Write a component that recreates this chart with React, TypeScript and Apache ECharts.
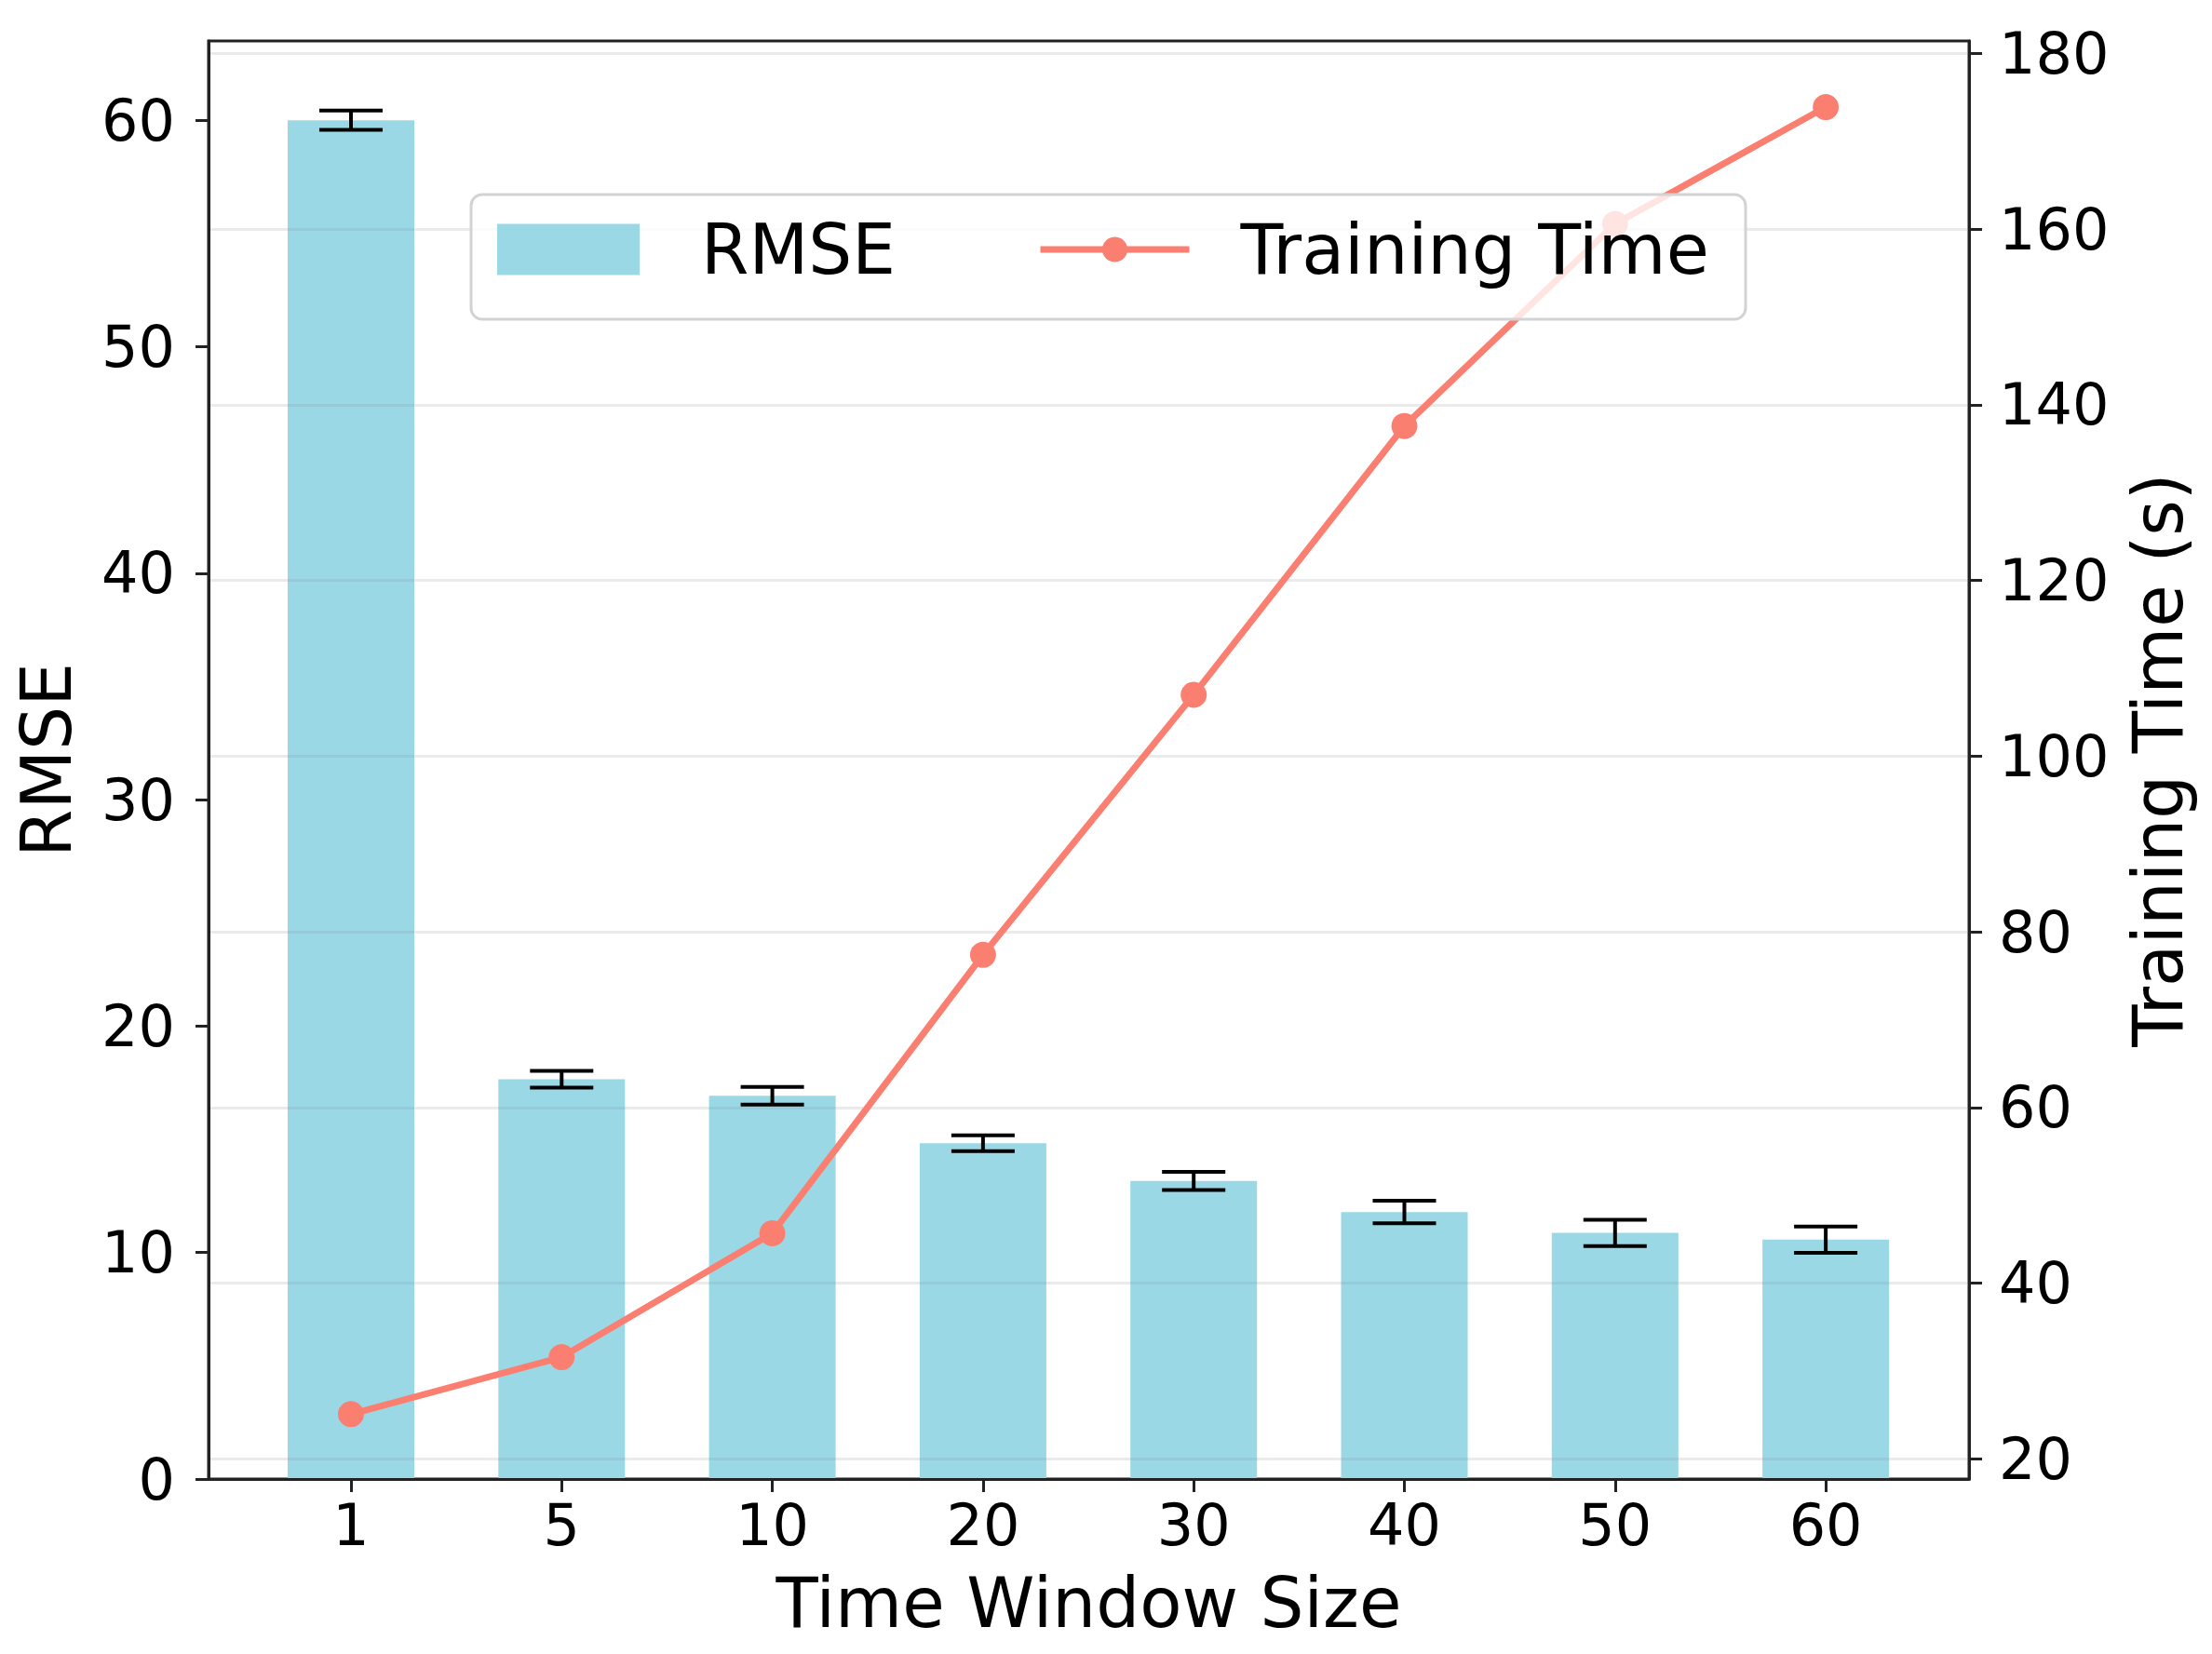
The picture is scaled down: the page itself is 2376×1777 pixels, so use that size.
import React, { useEffect, useRef } from "react";
import * as echarts from "echarts";

const categories = ["1", "5", "10", "20", "30", "40", "50", "60"];
const rmseValues = [60.0, 17.65, 16.92, 14.83, 13.16, 11.79, 10.87, 10.57];
const rmseErrors = [0.43, 0.37, 0.39, 0.35, 0.4, 0.5, 0.58, 0.58];
const trainingTime = [25.1, 31.6, 45.7, 77.4, 107.0, 137.6, 160.6, 173.9];
const rmseTicks = [0, 10, 20, 30, 40, 50, 60];
const timeTicks = [20, 40, 60, 80, 100, 120, 140, 160, 180];
const xTicks = categories.map((_, i) => i);

const FONT = "DejaVu Sans";
const BAR_COLOR = "#9AD8E6";
const LINE_COLOR = "#FA7F70";
const AXIS_COLOR = "#222";

export default function App() {
  const ref = useRef<HTMLDivElement>(null);

  useEffect(() => {
    if (!ref.current) return;
    const chart = echarts.init(ref.current, null, { renderer: "svg" });

    const axisLine = { show: true, onZero: false, lineStyle: { color: AXIS_COLOR, width: 3 } };
    const tickBase = { show: true, length: 14, inside: false, lineStyle: { color: AXIS_COLOR, width: 3 } };
    const labelBase = { color: "#000", fontFamily: FONT, fontSize: 62 };
    const nameStyle = { color: "#000", fontFamily: FONT, fontSize: 74 };

    const option: any = {
      animation: false,
      backgroundColor: "#fff",
      grid: {
        left: 224,
        right: 2376 - 2115,
        top: 44,
        bottom: 1777 - 1589,
        show: true,
        borderColor: AXIS_COLOR,
        borderWidth: 3,
        backgroundColor: "transparent",
        containLabel: false,
      },
      xAxis: {
        type: "value",
        min: -0.676,
        max: 7.68,
        z: 4,
        axisLine,
        axisTick: { ...tickBase, customValues: xTicks },
        axisLabel: {
          ...labelBase,
          customValues: xTicks,
          margin: 18,
          formatter: (v: number) => categories[Math.round(v)] ?? "",
        },
        splitLine: { show: false },
        name: "Time Window Size",
        nameLocation: "middle",
        nameGap: 96,
        nameTextStyle: nameStyle,
      },
      yAxis: [
        {
          type: "value",
          position: "left",
          min: 0,
          max: 63.5,
          z: 4,
          axisLine,
          axisTick: { ...tickBase, customValues: rmseTicks },
          axisLabel: { ...labelBase, customValues: rmseTicks, margin: 36 },
          splitLine: { show: false },
          name: "RMSE",
          nameLocation: "middle",
          nameRotate: 90,
          nameGap: 137,
          nameTextStyle: nameStyle,
        },
        {
          type: "value",
          position: "right",
          min: 17.72,
          max: 181.43,
          z: 4,
          axisLine,
          axisTick: { ...tickBase, customValues: timeTicks },
          axisLabel: { ...labelBase, customValues: timeTicks, margin: 32 },
          splitLine: { show: true, lineStyle: { color: "rgba(128,128,128,0.16)", width: 3 } },
          name: "Training Time (s)",
          nameLocation: "middle",
          nameRotate: 90,
          nameGap: 166,
          nameTextStyle: nameStyle,
        },
      ],
      legend: [
        {
          data: [{ name: "RMSE", icon: "rect" }],
          left: 534,
          top: 228,
          padding: 0,
          z: 10,
          selectedMode: false,
          itemWidth: 153,
          itemHeight: 55,
          textStyle: { ...nameStyle, fontSize: 74, lineHeight: 80, padding: [0, 0, 0, 61] },
        },
        {
          data: ["Training Time"],
          left: 1114,
          top: 228,
          padding: 0,
          z: 10,
          selectedMode: false,
          itemWidth: 160,
          itemHeight: 34,
          lineStyle: { width: 7, color: LINE_COLOR },
          textStyle: { ...nameStyle, fontSize: 75, lineHeight: 80, padding: [0, 0, 0, 50] },
        },
      ],
      graphic: [
        {
          type: "rect",
          z: 7,
          silent: true,
          shape: { x: 506, y: 209, width: 1369, height: 134, r: 12 },
          style: { fill: "rgba(255,255,255,0.8)", stroke: "#d3d3d3", lineWidth: 3 },
        },
      ],
      series: [
        {
          name: "RMSE",
          type: "bar",
          xAxisIndex: 0,
          yAxisIndex: 0,
          barWidth: 136,
          z: 2,
          itemStyle: { color: BAR_COLOR },
          data: rmseValues.map((v, i) => [i, v]),
        },
        {
          name: "RMSE error",
          type: "custom",
          xAxisIndex: 0,
          yAxisIndex: 0,
          z: 3,
          encode: { x: 0, y: 1 },
          data: rmseValues.map((v, i) => [i, v, rmseErrors[i]]),
          renderItem: (_params: any, api: any) => {
            const x = api.value(0);
            const m = api.value(1);
            const e = api.value(2);
            const hi = api.coord([x, m + e]);
            const lo = api.coord([x, m - e]);
            const half = 34;
            const style = { stroke: "#000", lineWidth: 4 };
            return {
              type: "group",
              children: [
                { type: "line", shape: { x1: hi[0], y1: hi[1], x2: lo[0], y2: lo[1] }, style },
                { type: "line", shape: { x1: hi[0] - half, y1: hi[1], x2: hi[0] + half, y2: hi[1] }, style },
                { type: "line", shape: { x1: lo[0] - half, y1: lo[1], x2: lo[0] + half, y2: lo[1] }, style },
              ],
            };
          },
        },
        {
          name: "Training Time",
          type: "line",
          xAxisIndex: 0,
          yAxisIndex: 1,
          z: 5,
          symbol: "circle",
          symbolSize: 28,
          lineStyle: { color: LINE_COLOR, width: 7 },
          itemStyle: { color: LINE_COLOR },
          data: trainingTime.map((v, i) => [i, v]),
        },
      ],
    };

    chart.setOption(option);
    return () => chart.dispose();
  }, []);

  return (
    <div
      ref={ref}
      style={{ position: "fixed", left: 0, top: 0, width: 2376, height: 1777, background: "#fff" }}
    />
  );
}
